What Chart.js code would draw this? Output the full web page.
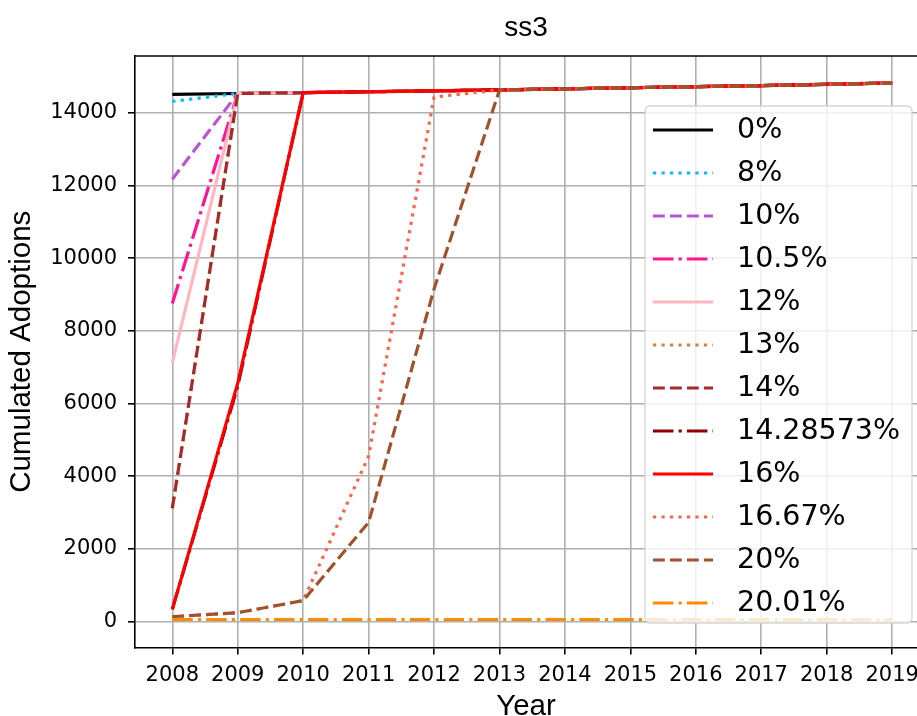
<!DOCTYPE html>
<html>
<head>
<meta charset="utf-8">
<script src="https://cdn.jsdelivr.net/npm/chart.js@4.4.1/dist/chart.umd.min.js"></script>
<style>
  html, body { margin: 0; padding: 0; background: #fff; overflow: hidden; }
</style>
</head>
<body>
<canvas id="c" width="917" height="716"></canvas>
<script>
// Years on the x axis and the y tick values
const years  = [2008, 2009, 2010, 2011, 2012, 2013, 2014, 2015, 2016, 2017, 2018, 2019];
const yTicks = [0, 2000, 4000, 6000, 8000, 10000, 12000, 14000];

// Cumulated adoptions per scenario (one value per year)
const s0     = [14500, 14527, 14550, 14575, 14600, 14625, 14655, 14685, 14715, 14745, 14780, 14816];
const s8     = [14310, 14527, 14550, 14575, 14600, 14625, 14655, 14685, 14715, 14745, 14780, 14816];
const s10    = [12170, 14527, 14550, 14575, 14600, 14625, 14655, 14685, 14715, 14745, 14780, 14816];
const s10_5  = [ 8750, 14527, 14550, 14575, 14600, 14625, 14655, 14685, 14715, 14745, 14780, 14816];
const s12    = [ 7120, 14527, 14550, 14575, 14600, 14625, 14655, 14685, 14715, 14745, 14780, 14816];
const s13    = [ 3120, 14527, 14550, 14575, 14600, 14625, 14655, 14685, 14715, 14745, 14780, 14816];
const s14    = [ 3120, 14527, 14550, 14575, 14600, 14625, 14655, 14685, 14715, 14745, 14780, 14816];
const s14_28 = [  340,  6480, 14550, 14575, 14600, 14625, 14655, 14685, 14715, 14745, 14780, 14816];
const s16    = [  340,  6560, 14550, 14575, 14600, 14625, 14655, 14685, 14715, 14745, 14780, 14816];
const s16_67 = [  137,   247,   580,  4550, 14430, 14625, 14655, 14685, 14715, 14745, 14780, 14816];
const s20    = [  137,   247,   580,  2730,  9150, 14625, 14655, 14685, 14715, 14745, 14780, 14816];
const s20_01 = [   60,    60,    60,    60,    60,    60,    60,    60,    60,    60,    60,    60];

const LW = 3.2;
const SOLID = [];
const DASHED = [3.7 * LW, 1.6 * LW];
const DOTTED = [1 * LW, 1.65 * LW];
const DASHDOT = [6.4 * LW, 1.6 * LW, 1 * LW, 1.6 * LW];

const series = [
  ['0%',        s0,     '#000000', SOLID],
  ['8%',        s8,     '#00bfff', DOTTED],
  ['10%',       s10,    '#ba55d3', DASHED],
  ['10.5%',     s10_5,  '#ff1493', DASHDOT],
  ['12%',       s12,    '#ffb6c1', SOLID],
  ['13%',       s13,    '#cd853f', DOTTED],
  ['14%',       s14,    '#a52a2a', DASHED],
  ['14.28573%', s14_28, '#8b0000', DASHDOT],
  ['16%',       s16,    '#ff0000', SOLID],
  ['16.67%',    s16_67, '#ff6347', DOTTED],
  ['20%',       s20,    '#a0522d', DASHED],
  ['20.01%',    s20_01, '#ff8c00', DASHDOT]
];

const datasets = series.map(([label, vals, color, dash], i) => ({
  label,
  data: years.map((yr, k) => ({ x: yr, y: vals[k] })),
  borderColor: color,
  backgroundColor: color,
  borderWidth: LW,
  borderDash: dash,
  borderCapStyle: 'butt',
  borderJoinStyle: 'round',
  pointRadius: 0,
  tension: 0,
  fill: false,
  order: -i   // later series drawn on top
}));

// Top frame line and the boxed legend inside the plot
const framePlugin = {
  id: 'frameAndLegend',
  afterDatasetsDraw(chart) {
    const ctx = chart.ctx;
    const a = chart.chartArea;
    ctx.save();
    ctx.strokeStyle = '#000';
    ctx.lineWidth = 1.6;
    ctx.beginPath();
    ctx.moveTo(a.left, a.top);
    ctx.lineTo(a.right, a.top);
    ctx.stroke();

    // legend box
    const bx = 645, by = 106, bw = 267, bh = 517;
    ctx.beginPath();
    ctx.roundRect(bx, by, bw, bh, 5);
    ctx.fillStyle = 'rgba(255,255,255,0.8)';
    ctx.fill();
    ctx.strokeStyle = 'rgba(204,204,204,0.8)';
    ctx.lineWidth = 1.3;
    ctx.stroke();

    const ds = chart.data.datasets;
    const row0 = 130, step = 43;
    ctx.font = '28.5px "DejaVu Sans"';
    ctx.textBaseline = 'middle';
    ctx.textAlign = 'left';
    ds.forEach((d, i) => {
      const y = row0 + i * step;
      ctx.beginPath();
      ctx.setLineDash(d.borderDash);
      ctx.lineCap = 'butt';
      ctx.strokeStyle = d.borderColor;
      ctx.lineWidth = d.borderWidth;
      ctx.moveTo(653, y);
      ctx.lineTo(713, y);
      ctx.stroke();
      ctx.setLineDash([]);
      ctx.fillStyle = '#000';
      ctx.fillText(d.label, 737, y + 1);
    });
    ctx.restore();
  }
};

new Chart(document.getElementById('c'), {
  type: 'line',
  data: { datasets },
  options: {
    responsive: false,
    animation: false,
    devicePixelRatio: 1,
    layout: { padding: 0 },
    plugins: {
      legend: { display: false },
      tooltip: { enabled: false },
      title: {
        display: true,
        text: 'ss3',
        fullSize: false,
        color: '#000',
        font: { family: '"Liberation Sans", Arial, sans-serif', size: 28, weight: 'normal' },
        padding: { top: 11, bottom: 11.4 }
      }
    },
    scales: {
      x: {
        type: 'linear',
        min: 2007.43,
        max: 2019.38,
        afterFit(scale) { scale.height = 68.5; scale.paddingLeft = 0; scale.paddingRight = 0; },
        afterBuildTicks(scale) { scale.ticks = years.map(v => ({ value: v })); },
        border: { display: true, color: '#000', width: 1.6 },
        grid: { color: '#b0b0b0', lineWidth: 1.6, tickLength: 7, tickColor: '#000', tickWidth: 1.6 },
        ticks: {
          color: '#000',
          padding: 8,
          maxRotation: 0,
          autoSkip: false,
          font: { family: '"DejaVu Sans"', size: 21 },
          callback: v => String(v)
        },
        title: {
          display: true,
          text: 'Year',
          color: '#000',
          font: { family: '"Liberation Sans", Arial, sans-serif', size: 29.5, lineHeight: 0.65 },
          padding: { top: 0, bottom: 0 }
        }
      },
      y: {
        type: 'linear',
        min: -710,
        max: 15558,
        afterFit(scale) { scale.width = 135; scale.paddingTop = 0; scale.paddingBottom = 0; },
        afterBuildTicks(scale) { scale.ticks = yTicks.map(v => ({ value: v })); },
        border: { display: true, color: '#000', width: 1.6 },
        grid: { color: '#b0b0b0', lineWidth: 1.6, tickLength: 7, tickColor: '#000', tickWidth: 1.6 },
        ticks: {
          color: '#000',
          padding: 11,
          autoSkip: false,
          font: { family: '"DejaVu Sans"', size: 21 },
          callback: v => String(v)
        },
        title: {
          display: true,
          text: 'Cumulated Adoptions',
          color: '#000',
          font: { family: '"Liberation Sans", Arial, sans-serif', size: 29.5 },
          padding: { top: 4, bottom: 0 }
        }
      }
    }
  },
  plugins: [framePlugin]
});
</script>
</body>
</html>
